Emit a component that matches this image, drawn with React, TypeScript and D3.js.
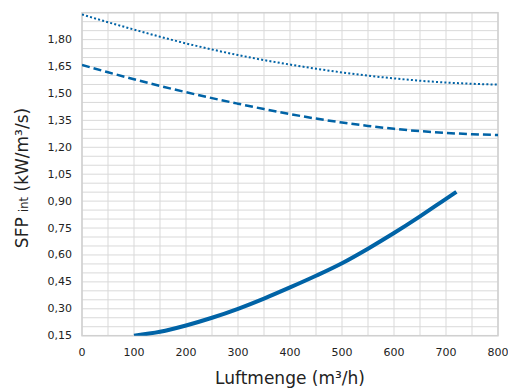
import React from "react";
import * as d3 from "d3";

const W = 508;
const H = 388;

const xTicks = [0, 100, 200, 300, 400, 500, 600, 700, 800];
const yTicks = [0.15, 0.3, 0.45, 0.6, 0.75, 0.9, 1.05, 1.2, 1.35, 1.5, 1.65, 1.8];

const upperX = [0, 50, 100, 150, 200, 250, 300, 350, 400, 450, 500, 550, 600, 650, 700, 750, 800];
const dottedSeries = [1.94, 1.897, 1.856, 1.816, 1.779, 1.745, 1.714, 1.686, 1.661, 1.638, 1.617, 1.599, 1.584, 1.571, 1.561, 1.554, 1.549];
const dashedSeries = [1.659, 1.618, 1.579, 1.542, 1.507, 1.474, 1.443, 1.413, 1.385, 1.36, 1.338, 1.319, 1.303, 1.29, 1.28, 1.273, 1.268];

const solidX = [100, 150, 200, 250, 300, 350, 400, 450, 500, 550, 600, 650, 700, 720];
const solidSeries = [0.15, 0.172, 0.207, 0.25, 0.3, 0.357, 0.419, 0.484, 0.554, 0.635, 0.722, 0.815, 0.913, 0.952];

const fmt = (v: number) => v.toFixed(2).replace(".", ",");

export default function App() {
  const left = 82, right = 498, top = 12.7, bottom = 335.7;
  const x = d3.scaleLinear().domain([0, 800]).range([left, right]);
  const y = d3.scaleLinear().domain([0.15, 1.95]).range([bottom, top]);

  const line = d3
    .line<[number, number]>()
    .x((d) => x(d[0]))
    .y((d) => y(d[1]))
    .curve(d3.curveMonotoneX);

  const vGrid = d3.range(0, 801, 50);
  const hGrid = d3.range(0, 37).map((i) => 0.15 + i * 0.05);

  const color = "#0063a6";
  const font = "'DejaVu Sans', Verdana, sans-serif";

  return (
    <svg
      width={W}
      height={H}
      style={{ position: "absolute", left: 0, top: 0, background: "#fff" }}
    >
      <defs>
        <clipPath id="plot">
          <rect x={left} y={top} width={right - left} height={bottom - top} />
        </clipPath>
      </defs>
      <g stroke="#d9d9d9" strokeWidth={1}>
        {vGrid.map((v) => (
          <line key={"v" + v} x1={x(v)} x2={x(v)} y1={top} y2={bottom} />
        ))}
        {hGrid.map((v, i) => (
          <line key={"h" + i} x1={left} x2={right} y1={y(v)} y2={y(v)} />
        ))}
      </g>
      <rect
        x={left}
        y={top}
        width={right - left}
        height={bottom - top}
        fill="none"
        stroke="#d0d0d0"
        strokeWidth={1.5}
      />
      <g clipPath="url(#plot)" fill="none" stroke={color}>
        <path
          d={line(upperX.map((v, i) => [v, dottedSeries[i]]))!}
          strokeWidth={2}
          strokeDasharray="2 2.2"
        />
        <path
          d={line(upperX.map((v, i) => [v, dashedSeries[i]]))!}
          strokeWidth={2.5}
          strokeDasharray="8 4"
        />
        <path
          d={line(solidX.map((v, i) => [v, solidSeries[i]]))!}
          strokeWidth={4}
          strokeLinecap="butt"
        />
      </g>
      <g fontFamily={font} fontSize={11} fill="#222">
        {yTicks.map((t) => (
          <text key={"yt" + t} x={72} y={y(t)} textAnchor="end" dominantBaseline="central">
            {fmt(t)}
          </text>
        ))}
        {xTicks.map((t) => (
          <text key={"xt" + t} x={x(t)} y={356} textAnchor="middle">
            {t}
          </text>
        ))}
      </g>
      <text
        x={290}
        y={384}
        textAnchor="middle"
        fontFamily={font}
        fontSize={17}
        fill="#222"
      >
        Luftmenge (m³/h)
      </text>
      <text
        transform={`translate(28,178) rotate(-90)`}
        textAnchor="middle"
        fontFamily={font}
        fontSize={17}
        fill="#222"
      >
        SFP <tspan fontSize={11.5}>int</tspan> (kW/m³/s)
      </text>
    </svg>
  );
}
